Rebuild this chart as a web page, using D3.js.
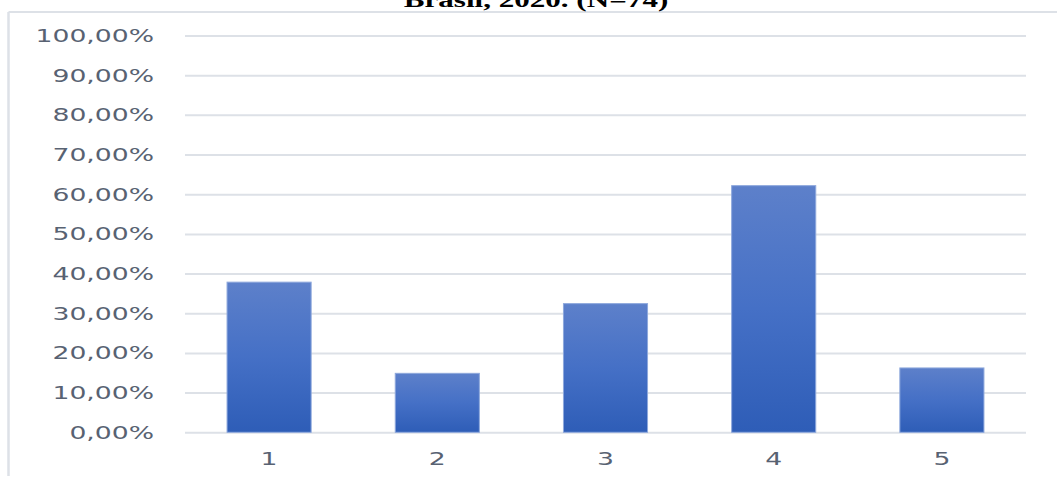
<!DOCTYPE html>
<html>
<head>
<meta charset="utf-8">
<script src="https://cdn.jsdelivr.net/npm/d3@7"></script>
<style>
  html, body { margin: 0; padding: 0; background: #fff; }
  svg { display: block; }
</style>
</head>
<body>
<svg id="chart" width="1057" height="477"></svg>
<script>
const categories = ["1", "2", "3", "4", "5"];
const values = [37.84, 14.86, 32.43, 62.16, 16.22];
const yTicks = [0, 10, 20, 30, 40, 50, 60, 70, 80, 90, 100];
const titleText = "Brasil, 2020. (N=74)";

const W = 1057, H = 477;
const svg = d3.select("#chart");
const margin = { left: 185, right: 31, top: 35.5, bottom: 45 };
const plotBottom = 432.3;

const x = d3.scaleBand().domain(categories).range([margin.left, W - margin.right]).paddingInner(0.5).paddingOuter(0.25);
const y = d3.scaleLinear().domain([0, 100]).range([plotBottom, margin.top]);

// gradient
const defs = svg.append("defs");
const grad = defs.append("linearGradient").attr("id", "barGrad").attr("x1", 0).attr("y1", 0).attr("x2", 0).attr("y2", 1);
grad.append("stop").attr("offset", "0%").attr("stop-color", "#5d80ca");
grad.append("stop").attr("offset", "50%").attr("stop-color", "#4570c6");
grad.append("stop").attr("offset", "100%").attr("stop-color", "#2e5db7");

// frame border (top and left)
svg.append("line").attr("x1", 8.5).attr("x2", W).attr("y1", 12).attr("y2", 12)
  .attr("stroke", "#dde1e7").attr("stroke-width", 2);
svg.append("line").attr("x1", 8.5).attr("x2", 8.5).attr("y1", 12).attr("y2", 476)
  .attr("stroke", "#dde1e7").attr("stroke-width", 2.5);

// title (cut off at top)
svg.append("text")
  .attr("transform", `translate(536,7) scale(1.48,1)`)
  .attr("text-anchor", "middle")
  .attr("font-family", "Liberation Serif, serif")
  .attr("font-weight", "bold")
  .attr("font-size", 21)
  .attr("fill", "#000")
  .text(titleText);

// gridlines
const yAxis = d3.axisLeft(y).tickValues(yTicks).tickSize(-(W - margin.right - margin.left)).tickFormat("");
const gGrid = svg.append("g").attr("transform", `translate(${margin.left},0)`).call(yAxis);
gGrid.select(".domain").remove();
gGrid.selectAll(".tick line").attr("stroke", "#dde1e7").attr("stroke-width", 2);

// y labels
const fmt = v => v.toFixed(2).replace(".", ",") + "%";
svg.append("g").selectAll("text").data(yTicks).join("text")
  .attr("transform", d => `translate(154,${y(d) + 6.5}) scale(1.48,1)`)
  .attr("text-anchor", "end")
  .attr("font-family", "DejaVu Sans, sans-serif")
  .attr("font-size", 18)
  .attr("fill", "#586272")
  .text(fmt);

// bars
svg.append("g").selectAll("rect").data(values).join("rect")
  .attr("x", (d, i) => x(categories[i]))
  .attr("y", d => y(d))
  .attr("width", x.bandwidth())
  .attr("height", d => plotBottom - y(d))
  .attr("fill", "url(#barGrad)")
  .attr("stroke", "#8ea8dc")
  .attr("stroke-width", 1);

// x labels
const xAxis = d3.axisBottom(x).tickSize(0).tickPadding(0);
const gX = svg.append("g").attr("transform", `translate(0,${plotBottom})`).call(xAxis);
gX.select(".domain").remove();
gX.selectAll(".tick text").each(function(d) {
  const t = d3.select(this);
  t.attr("y", 0).attr("dy", 0)
   .attr("transform", `translate(0,33) scale(1.48,1)`)
   .attr("font-family", "DejaVu Sans, sans-serif")
   .attr("font-size", 18)
   .attr("fill", "#586272")
   .attr("text-anchor", "middle");
});
</script>
</body>
</html>
